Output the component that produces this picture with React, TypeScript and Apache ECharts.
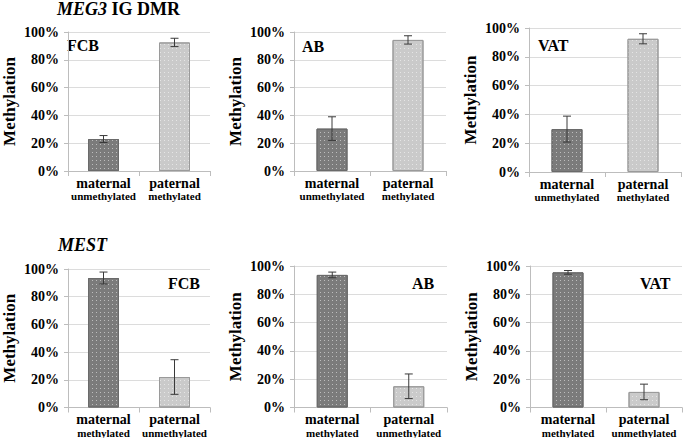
import React, { useEffect, useRef } from "react";
import * as echarts from "echarts";

const categories = ["maternal", "paternal"];
const meg3Sub = ["unmethylated", "methylated"];
const mestSub = ["methylated", "unmethylated"];
const tissues = ["FCB", "AB", "VAT"];
const yTicks = [0, 20, 40, 60, 80, 100];

// MEG3 IG DMR (top row): mean % methylation and error per tissue [maternal, paternal]
const meg3FCB = [23, 92.5];
const meg3AB = [30.5, 94.3];
const meg3VAT = [29.8, 92.5];
const meg3FCBErr = [2.5, 3];
const meg3ABErr = [8.5, 3];
const meg3VATErr = [9, 3.5];

// MEST (bottom row)
const mestFCB = [93.5, 22];
const mestAB = [93.7, 15];
const mestVAT = [95.5, 11];
const mestFCBErr = [4.3, 12.5];
const mestABErr = [2, 8.7];
const mestVATErr = [1.3, 5.5];

const FONT = "Times New Roman";

export default function App() {
  const ref = useRef<HTMLDivElement>(null);
  useEffect(() => {
    if (!ref.current) return;
    const chart = echarts.init(ref.current, null, { renderer: "svg" });

    const panels = [
      { means: meg3FCB, errs: meg3FCBErr, sub: meg3Sub, grid: { left: 58, top: 32, width: 152, height: 139 }, label: { x: 67, y: 45 } },
      { means: meg3AB, errs: meg3ABErr, sub: meg3Sub, grid: { left: 294, top: 32, width: 152, height: 139 }, label: { x: 302, y: 46 } },
      { means: meg3VAT, errs: meg3VATErr, sub: meg3Sub, grid: { left: 529, top: 28, width: 152, height: 144 }, label: { x: 538, y: 45 } },
      { means: mestFCB, errs: mestFCBErr, sub: mestSub, grid: { left: 57, top: 269, width: 153, height: 140 }, label: { x: 168, y: 283 } },
      { means: mestAB, errs: mestABErr, sub: mestSub, grid: { left: 294, top: 266, width: 153, height: 142 }, label: { x: 412, y: 283 } },
      { means: mestVAT, errs: mestVATErr, sub: mestSub, grid: { left: 530, top: 266, width: 152, height: 142 }, label: { x: 640, y: 283 } },
    ];

    const barColors = ["#7b7b7b", "#cacaca"];
    const barBorders = ["#6a6a6a", "#9a9a9a"];

    const grid: any[] = [];
    const xAxis: any[] = [];
    const yAxis: any[] = [];
    const series: any[] = [];
    const graphic: any[] = [];

    panels.forEach((p, i) => {
      grid.push({ ...p.grid });
      xAxis.push({
        type: "category",
        gridIndex: i,
        data: categories,
        axisLine: { show: true, lineStyle: { color: "#bdbdbd" } },
        axisTick: { show: true, alignWithLabel: false, length: 5, lineStyle: { color: "#bdbdbd" } },
        axisLabel: {
          margin: 5,
          interval: 0,
          fontFamily: FONT,
          fontWeight: "bold",
          formatter: (v: string, idx: number) => `{a|${v}}\n{b|${p.sub[idx]}}`,
          rich: {
            a: { fontFamily: FONT, fontWeight: "bold", fontSize: 14, lineHeight: 14, color: "#000" },
            b: { fontFamily: FONT, fontWeight: "bold", fontSize: 11, lineHeight: 12, color: "#000" },
          },
        },
      });
      yAxis.push({
        type: "value",
        gridIndex: i,
        min: yTicks[0],
        max: yTicks[yTicks.length - 1],
        interval: 20,
        name: "Methylation",
        nameLocation: "middle",
        nameRotate: 90,
        nameGap: 50,
        nameTextStyle: { fontFamily: FONT, fontWeight: "bold", fontSize: 17, color: "#000" },
        axisLine: { show: true, lineStyle: { color: "#bdbdbd" } },
        axisTick: { show: true, length: 4, lineStyle: { color: "#bdbdbd" } },
        axisLabel: {
          margin: 9,
          formatter: "{value}%",
          fontFamily: FONT,
          fontWeight: "bold",
          fontSize: 14,
          color: "#000",
        },
        splitLine: { show: true, lineStyle: { color: "#dcdcdc" } },
      });
      series.push({
        type: "bar",
        xAxisIndex: i,
        yAxisIndex: i,
        barWidth: 31,
        data: p.means.map((m, k) => ({
          value: m,
          itemStyle: {
            color: barColors[k],
            borderColor: barBorders[k],
            borderWidth: 1,
            decal: {
              symbol: "rect",
              symbolSize: 1,
              dashArrayX: [1, 3],
              dashArrayY: [1, 3],
              color: "rgba(255,255,255,0.5)",
            },
          },
        })),
      });
      series.push({
        type: "custom",
        xAxisIndex: i,
        yAxisIndex: i,
        z: 5,
        encode: { x: 0, y: [1, 2] },
        data: p.means.map((m, k) => [k, m - p.errs[k], m + p.errs[k]]),
        renderItem: (params: any, api: any) => {
          const x = api.value(0);
          const lo = api.coord([x, api.value(1)]);
          const hi = api.coord([x, api.value(2)]);
          const w = 4;
          const st = { stroke: "#3a3a3a", lineWidth: 1, fill: "none" };
          return {
            type: "group",
            children: [
              { type: "line", shape: { x1: hi[0], y1: hi[1], x2: lo[0], y2: lo[1] }, style: st },
              { type: "line", shape: { x1: hi[0] - w, y1: hi[1], x2: hi[0] + w, y2: hi[1] }, style: st },
              { type: "line", shape: { x1: lo[0] - w, y1: lo[1], x2: lo[0] + w, y2: lo[1] }, style: st },
            ],
          };
        },
      });
      graphic.push({
        type: "text",
        x: p.label.x,
        y: p.label.y,
        style: {
          text: tissues[i % 3],
          fontFamily: FONT,
          fontWeight: "bold",
          fontSize: 16,
          fill: "#000",
          textVerticalAlign: "middle",
        },
      });
    });

    chart.setOption({
      animation: false,
      backgroundColor: "#fff",
      textStyle: { fontFamily: FONT },
      aria: { enabled: true, decal: { show: true } },
      title: [
        {
          text: "{i|MEG3} IG DMR",
          left: 57,
          top: 0,
          padding: 0,
          textStyle: {
            fontFamily: FONT,
            fontWeight: "bold",
            fontSize: 18,
            color: "#000",
            rich: { i: { fontFamily: FONT, fontWeight: "bold", fontStyle: "italic", fontSize: 18, color: "#000" } },
          },
        },
        {
          text: "{i|MEST}",
          left: 58,
          top: 236,
          padding: 0,
          textStyle: {
            fontFamily: FONT,
            fontWeight: "bold",
            fontSize: 18,
            color: "#000",
            rich: { i: { fontFamily: FONT, fontWeight: "bold", fontStyle: "italic", fontSize: 18, color: "#000" } },
          },
        },
      ],
      grid,
      xAxis,
      yAxis,
      series,
      graphic,
    });
    return () => chart.dispose();
  }, []);
  return (
    <>
      <style>{`#chartroot text { font-family: "Times New Roman", "Liberation Serif", serif !important; }`}</style>
      <div
        id="chartroot"
        ref={ref}
        style={{ position: "absolute", left: 0, top: 0, width: 683, height: 438 }}
      />
    </>
  );
}
